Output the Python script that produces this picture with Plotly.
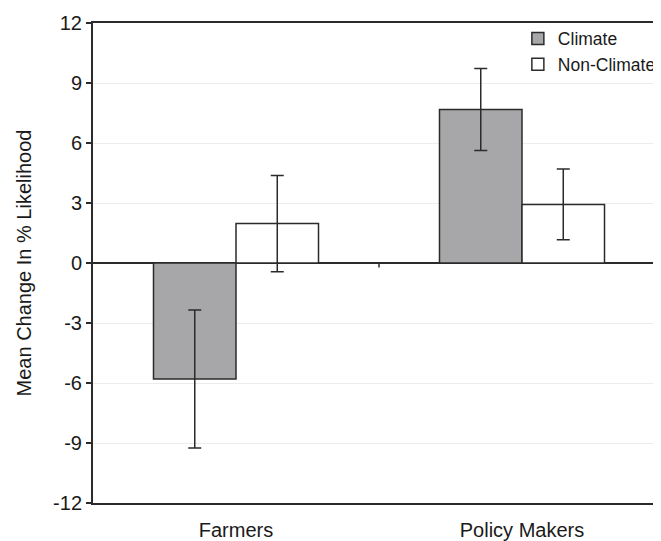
import plotly.graph_objects as go

categories = ["Farmers", "Policy Makers"]
climate = [-5.8, 7.67]
climate_err = [3.45, 2.05]
non_climate = [1.97, 2.93]
non_climate_err = [2.41, 1.77]
y_ticks = [-12, -9, -6, -3, 0, 3, 6, 9, 12]

FONT = "Liberation Sans, Arial, sans-serif"
INK = "#2b2b2b"
TXT = "#1a1a1a"

fig = go.Figure()
fig.add_trace(go.Bar(
    name="Climate", x=categories, y=climate,
    marker=dict(color="#a7a7a9", line=dict(color=INK, width=1.5)),
    error_y=dict(type="data", array=climate_err, visible=True, color=INK, thickness=1.5, width=6.5),
))
fig.add_trace(go.Bar(
    name="Non-Climate", x=categories, y=non_climate,
    marker=dict(color="white", line=dict(color=INK, width=1.5)),
    error_y=dict(type="data", array=non_climate_err, visible=True, color=INK, thickness=1.5, width=6.5),
))

# small category-separator tick on the zero line
fig.add_shape(type="line", xref="x", yref="y", x0=0.5, x1=0.5, y0=0, y1=-0.22,
              line=dict(color=INK, width=1.5), layer="above")

fig.update_layout(
    width=653, height=533,
    margin=dict(l=85, r=0, t=15, b=38, autoexpand=False),
    paper_bgcolor="white", plot_bgcolor="white",
    barmode="group", bargap=0.423, bargroupgap=0,
    font=dict(family=FONT, size=20, color=TXT),
    showlegend=True,
    legend=dict(x=0.748, y=1.005, xanchor="left", yanchor="top",
                font=dict(size=17.5, family=FONT, color=TXT),
                bgcolor="rgba(0,0,0,0)", itemwidth=30, tracegroupgap=0,
                traceorder="normal"),
)
fig.update_xaxes(
    range=[-0.5, 1.486], showgrid=False, zeroline=False, automargin=False,
    showline=True, linecolor=INK, linewidth=2, mirror=True,
    ticks="", ticklabelstandoff=8,
    tickfont=dict(size=20, family=FONT, color=TXT),
)
fig.update_yaxes(
    range=[-12, 12], tickvals=y_ticks, ticktext=[str(v) for v in y_ticks],
    automargin=False,
    showgrid=True, gridcolor="#ececec", gridwidth=1,
    zeroline=True, zerolinecolor=INK, zerolinewidth=1.5,
    showline=True, linecolor=INK, linewidth=2,
    ticks="outside", ticklen=5, tickcolor=INK, tickwidth=1.5,
    tickfont=dict(size=20, family=FONT, color=TXT),
    title=dict(text="Mean Change In % Likelihood", standoff=16,
               font=dict(size=20, family=FONT, color=TXT)),
)

fig.write_html("out.html")
